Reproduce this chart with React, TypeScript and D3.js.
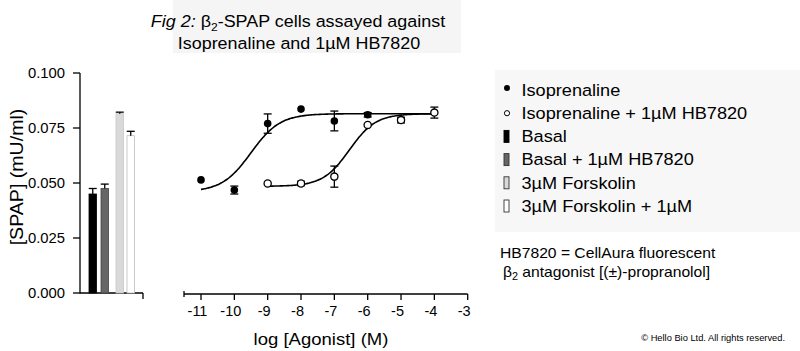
import React from "react";
import * as d3 from "d3";

// ---- data ----
const barLabels = ["Basal", "Basal + 1µM HB7820", "3µM Forskolin", "3µM Forskolin + 1µM"];
const barValues = [0.045, 0.0475, 0.0815, 0.0715];
const barErrors = [0.0025, 0.002, 0.0007, 0.002];
const barFills = ["#000000", "#666666", "#d9d9d9", "#ffffff"];

const logDose = [-11, -10, -9, -8, -7, -6];
const isoValues = [0.0514, 0.0468, 0.0770, 0.0836, 0.0782, 0.0810];
const isoErrors = [0, 0.0018, 0.0044, 0, 0.0045, 0.001];

const logDoseHB = [-9, -8, -7, -6, -5, -4];
const hbValues = [0.0498, 0.0498, 0.0529, 0.0764, 0.0786, 0.0820];
const hbErrors = [0, 0.0010, 0.0048, 0, 0.0013, 0.0025];

// fitted curve parameters: [bottom, top, logEC50, hill, xStart, xEnd]
const isoFit = [0.046, 0.0815, -9.5, 1.0, -11, -4];
const hbFit = [0.0485, 0.0815, -6.55, 1.1, -9, -4];

const yTicks = [0, 0.025, 0.05, 0.075, 0.1];
const xTicks = [-11, -10, -9, -8, -7, -6, -5, -4, -3];

const legendItems = [
  "Isoprenaline",
  "Isoprenaline + 1µM HB7820",
  "Basal",
  "Basal + 1µM HB7820",
  "3µM Forskolin",
  "3µM Forskolin + 1µM",
];

const FONT = "'Liberation Sans', Arial, sans-serif";

export default function App() {
  const W = 800, H = 351;
  const y = d3.scaleLinear().domain([0, 0.1]).range([293, 73]);
  const xb = d3.scaleBand().domain(barLabels).range([86, 138]).paddingInner(0.3);
  const xl = d3.scaleLinear().domain([-11, -3]).range([201, 467.7]);

  const barPos = [89, 101, 116, 127];
  const bw = 7.5;

  const curve = (p: number[]) => {
    const [b, t, ec, h, s, e] = p;
    const pts = d3.range(s, e + 0.0001, 0.05).map((v) => [v, b + (t - b) / (1 + Math.pow(10, (ec - v) * h))]);
    return d3.line<number[]>().x((d) => xl(d[0])).y((d) => y(d[1])).curve(d3.curveBasis)(pts) || "";
  };

  const errBar = (cx: number, v: number, e: number, key: string) =>
    e > 0 ? (
      <g key={key} stroke="#000" strokeWidth={1.3}>
        <line x1={cx} x2={cx} y1={y(v + e)} y2={y(v - e)} />
        <line x1={cx - 4} x2={cx + 4} y1={y(v + e)} y2={y(v + e)} />
        <line x1={cx - 4} x2={cx + 4} y1={y(v - e)} y2={y(v - e)} />
      </g>
    ) : null;

  const axisY = 294;
  const SX = 1.1;

  return (
    <svg width={W} height={H} style={{ position: "absolute", left: 0, top: 0, background: "#fff" }} fontFamily={FONT}>
      {/* title background */}
      <rect x={173} y={0} width={288} height={53} fill="#f5f5f5" />
      <text transform={`translate(298,27) scale(${SX},1)`} textAnchor="middle" fontSize={16.3} fill="#000">
        <tspan fontStyle="italic">Fig 2:</tspan>
        <tspan> β</tspan>
        <tspan fontSize={11} dy={4}>2</tspan>
        <tspan dy={-4}>-SPAP cells assayed against</tspan>
      </text>
      <text transform={`translate(299,49) scale(${SX},1)`} textAnchor="middle" fontSize={16.3} fill="#000">Isoprenaline and 1µM HB7820</text>

      {/* y axis */}
      <line x1={80} x2={80} y1={y(0.1)} y2={y(0) + 0.5} stroke="#000" strokeWidth={1.3} />
      {yTicks.map((t) => (
        <g key={t}>
          <line x1={73} x2={80} y1={y(t)} y2={y(t)} stroke="#000" strokeWidth={1.3} />
          <text x={65} y={y(t) + 4.8} textAnchor="end" fontSize={14.8}>{t.toFixed(3)}</text>
        </g>
      ))}
      <text transform={`translate(23,${177}) rotate(-90) scale(1.12,1)`} textAnchor="middle" fontSize={17.5}>[SPAP] (mU/ml)</text>

      {/* bar x axis */}
      <line x1={80} x2={143} y1={y(0)} y2={y(0)} stroke="#000" strokeWidth={1.3} />
      <line x1={143} x2={143} y1={y(0)} y2={y(0) + 6} stroke="#000" strokeWidth={1.3} />

      {/* bars */}
      {barValues.map((v, i) => {
        const x0 = barPos[i];
        return (
          <g key={i}>
            <rect x={x0} y={y(v)} width={bw} height={y(0) - y(v)} fill={barFills[i]}
              stroke={i === 0 ? "#000" : i === 1 ? "#444" : i === 2 ? "#c8c8c8" : "#bdbdbd"} strokeWidth={0.8} />
            <g stroke="#000" strokeWidth={1.3}>
              <line x1={x0 + bw / 2} x2={x0 + bw / 2} y1={y(v + barErrors[i])} y2={y(v)} />
              <line x1={x0 + bw / 2 - 4} x2={x0 + bw / 2 + 4} y1={y(v + barErrors[i])} y2={y(v + barErrors[i])} />
            </g>
          </g>
        );
      })}

      {/* log axis */}
      <line x1={184} x2={xl(-3)} y1={axisY} y2={axisY} stroke="#000" strokeWidth={1.3} />
      <line x1={184} x2={184} y1={axisY - 3} y2={axisY + 3} stroke="#000" strokeWidth={1.3} />
      {xTicks.map((t) => (
        <g key={t}>
          <line x1={xl(t)} x2={xl(t)} y1={axisY} y2={axisY + 6} stroke="#000" strokeWidth={1.3} />
          <text x={xl(t) - 3.5} y={315.5} textAnchor="middle" fontSize={14.5}>{t}</text>
        </g>
      ))}
      <text transform={`translate(321,345) scale(1.09,1)`} textAnchor="middle" fontSize={17}>log [Agonist] (M)</text>

      {/* curves */}
      <path d={curve(isoFit)} fill="none" stroke="#000" strokeWidth={1.6} />
      <path d={curve(hbFit)} fill="none" stroke="#000" strokeWidth={1.6} />

      {/* error bars */}
      {logDose.map((d, i) => errBar(xl(d), isoValues[i], isoErrors[i], "ie" + i))}
      {logDoseHB.map((d, i) => errBar(xl(d), hbValues[i], hbErrors[i], "he" + i))}

      {/* points */}
      {logDose.map((d, i) => (
        <circle key={"ip" + i} cx={xl(d)} cy={y(isoValues[i])} r={3.8} fill="#000" />
      ))}
      {logDoseHB.map((d, i) => (
        <circle key={"hp" + i} cx={xl(d)} cy={y(hbValues[i])} r={3.6} fill="#fff" stroke="#000" strokeWidth={1.3} />
      ))}

      {/* legend */}
      <rect x={495} y={70} width={305} height={162} fill="#f7f7f7" />
      {legendItems.map((label, i) => {
        const cy = 90 + i * 23.2;
        let marker: React.ReactNode = null;
        if (i === 0) marker = <circle cx={507} cy={cy - 2} r={3} fill="#000" />;
        else if (i === 1) marker = <circle cx={507} cy={cy} r={2.6} fill="#fff" stroke="#000" strokeWidth={1} />;
        else {
          const bi = i - 2;
          marker = (
            <rect x={504} y={cy - 6} width={5} height={12} fill={barFills[bi]}
              stroke={bi === 0 ? "#000" : "#333"} strokeWidth={0.9} />
          );
        }
        return (
          <g key={label}>
            {marker}
            <text transform={`translate(521.5,${cy + 5.8}) scale(${SX},1)`} fontSize={16.5}>{label}</text>
          </g>
        );
      })}

      {/* note */}
      <text transform={`translate(500,258) scale(1.08,1)`} fontSize={14.5}>HB7820 = CellAura fluorescent</text>
      <text transform={`translate(503,277) scale(1.08,1)`} fontSize={14.5}>
        <tspan>β</tspan>
        <tspan fontSize={10} dy={3}>2</tspan>
        <tspan dy={-3}> antagonist [(±)-propranolol]</tspan>
      </text>
      <text x={785} y={341} textAnchor="end" fontSize={9.3}>© Hello Bio Ltd. All rights reserved.</text>
    </svg>
  );
}
